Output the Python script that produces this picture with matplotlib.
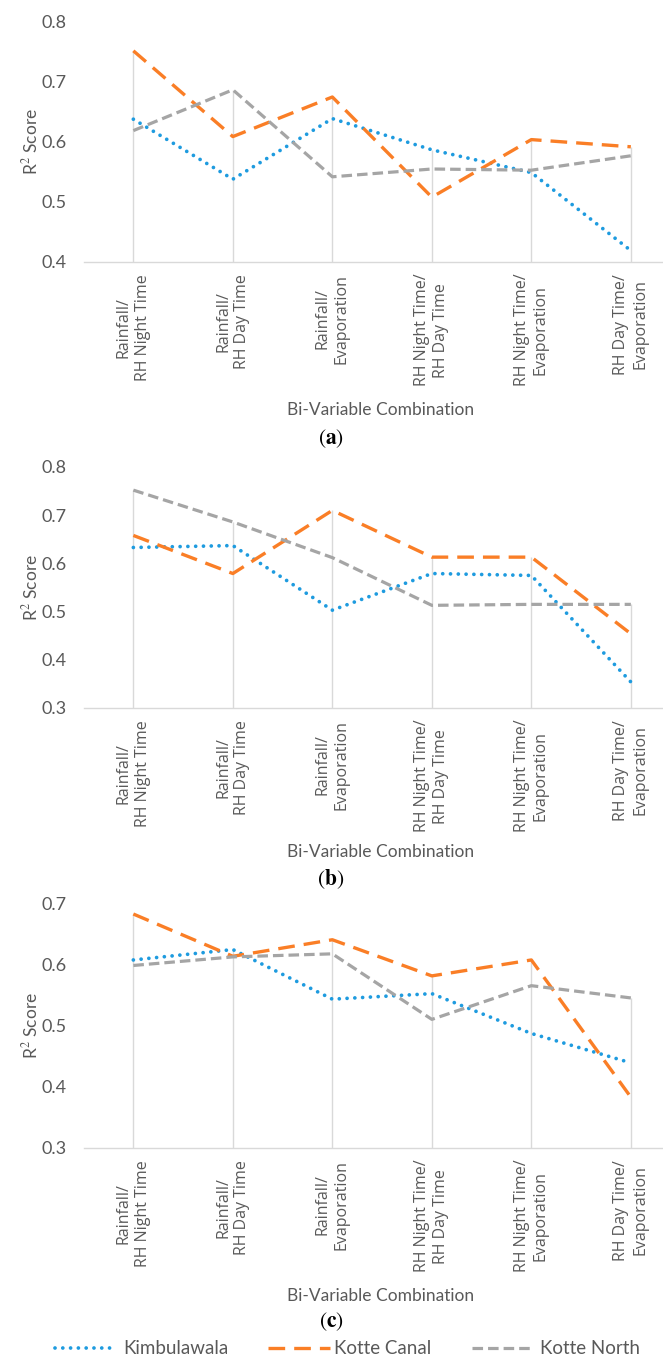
import matplotlib
matplotlib.use("Agg")
import matplotlib.pyplot as plt
from matplotlib.lines import Line2D

plt.rcParams['lines.scale_dashes'] = False
plt.rcParams['mathtext.fontset'] = 'stix'

# Bi-variable combinations shown on the x axis
categories = [
    "Rainfall/\nRH Night Time",
    "Rainfall/\nRH Day Time",
    "Rainfall/\nEvaporation",
    "RH Night Time/\nRH Day Time",
    "RH Night Time/\nEvaporation",
    "RH Day Time/\nEvaporation",
]
series_names = ["Kimbulawala", "Kotte Canal", "Kotte North"]

# R² scores, panel (a)
kimbulawala_a = [0.638, 0.538, 0.639, 0.587, 0.549, 0.419]
kotte_canal_a = [0.752, 0.609, 0.675, 0.508, 0.604, 0.592]
kotte_north_a = [0.619, 0.687, 0.542, 0.555, 0.553, 0.577]

# R² scores, panel (b)
kimbulawala_b = [0.633, 0.637, 0.503, 0.579, 0.575, 0.354]
kotte_canal_b = [0.658, 0.579, 0.710, 0.613, 0.613, 0.454]
kotte_north_b = [0.752, 0.686, 0.612, 0.513, 0.515, 0.515]

# R² scores, panel (c)
kimbulawala_c = [0.607, 0.624, 0.543, 0.552, 0.487, 0.439]
kotte_canal_c = [0.682, 0.613, 0.640, 0.581, 0.607, 0.383]
kotte_north_c = [0.598, 0.612, 0.617, 0.510, 0.565, 0.545]

y_ranges = {"a": (0.4, 0.8), "b": (0.3, 0.8), "c": (0.3, 0.7)}

W, H = 663, 1357
fig = plt.figure(figsize=(W / 100, H / 100), dpi=100)

TEXT = '#595959'
GRID = '#d9d9d9'
styles = [
    dict(color='#1E9BDF', lw=2.7, dashes=(0.01, 5.6), dash_capstyle='round'),
    dict(color='#FA7E26', lw=2.4, dashes=(12.0, 6.5), dash_capstyle='butt'),
    dict(color='#A5A5A5', lw=2.3, dashes=(7.6, 3.6), dash_capstyle='butt'),
]


def px_rect(left, top, right, bottom):
    return [left / W, 1 - bottom / H, (right - left) / W, (bottom - top) / H]


panels = [
    ("a", (22, 262), [kimbulawala_a, kotte_canal_a, kotte_north_a], 410, 439),
    ("b", (467, 708), [kimbulawala_b, kotte_canal_b, kotte_north_b], 852, 879),
    ("c", (903, 1148), [kimbulawala_c, kotte_canal_c, kotte_north_c], 1296, 1322),
]

left_px = 83.6
spacing_px = 99.5
x = list(range(len(categories)))
x_right = -0.5 + (W - left_px) / spacing_px

for key, (top, bottom), data, xlabel_y, tag_y in panels:
    ax = fig.add_axes(px_rect(left_px, top, W, bottom))
    y0, y1 = y_ranges[key]
    ax.set_xlim(-0.5, x_right)
    ax.set_ylim(y0, y1)

    # drop lines from the axis to the highest value of each category
    tops = [max(vals) for vals in zip(*data)]
    ax.vlines(x, y0, tops, color=GRID, lw=1.0, zorder=1)

    for vals, st in zip(data, styles):
        ax.plot(x, vals, color=st['color'], lw=st['lw'], dashes=st['dashes'],
                dash_capstyle=st['dash_capstyle'], zorder=3)

    for s in ['top', 'right', 'left']:
        ax.spines[s].set_visible(False)
    ax.spines['bottom'].set_color(GRID)
    ax.spines['bottom'].set_linewidth(1.0)

    ticks = [round(y0 + 0.1 * i, 1) for i in range(int(round((y1 - y0) / 0.1)) + 1)]
    ax.set_yticks(ticks)
    ax.set_yticklabels([f"{t:.1f}" for t in ticks], fontfamily='Lato',
                       fontsize=13, color=TEXT)
    ax.set_xticks(x)
    ax.set_xticklabels(categories, rotation=90, fontfamily='Open Sans',
                       fontsize=11.5, color=TEXT, ha='center', va='top',
                       multialignment='center', linespacing=1.25)
    ax.tick_params(axis='both', length=0)
    ax.tick_params(axis='y', pad=12.5)
    ax.tick_params(axis='x', pad=8.5)

    fig.text(30 / W, 1 - (top + bottom) / 2 / H, "R$^2$ Score", rotation=90,
             ha='center', va='center', fontfamily='Lato', fontsize=12.5,
             color=TEXT)
    fig.text(381 / W, 1 - xlabel_y / H, "Bi-Variable Combination",
             ha='center', va='center', fontfamily='Lato', fontsize=12.5,
             color=TEXT)
    fig.text(331 / W, 1 - tag_y / H, r"$(\mathbf{" + key + "})$",
             ha='center', va='center', fontsize=15.5, color='black')

# legend row at the bottom
leg_y = 1 - 1348 / H
legend_items = [(55, 114, 123), (268, 330, 334), (472, 532, 540)]
for (x0, x1, tx), st, name in zip(legend_items, styles, series_names):
    fig.add_artist(Line2D([x0 / W, x1 / W], [leg_y, leg_y],
                          transform=fig.transFigure, color=st['color'],
                          lw=st['lw'], dashes=st['dashes'],
                          dash_capstyle=st['dash_capstyle']))
    fig.text(tx / W, leg_y, name, ha='left', va='center', fontfamily='Lato',
             fontsize=13.5, color=TEXT)

fig.savefig("out.png", dpi=100)
